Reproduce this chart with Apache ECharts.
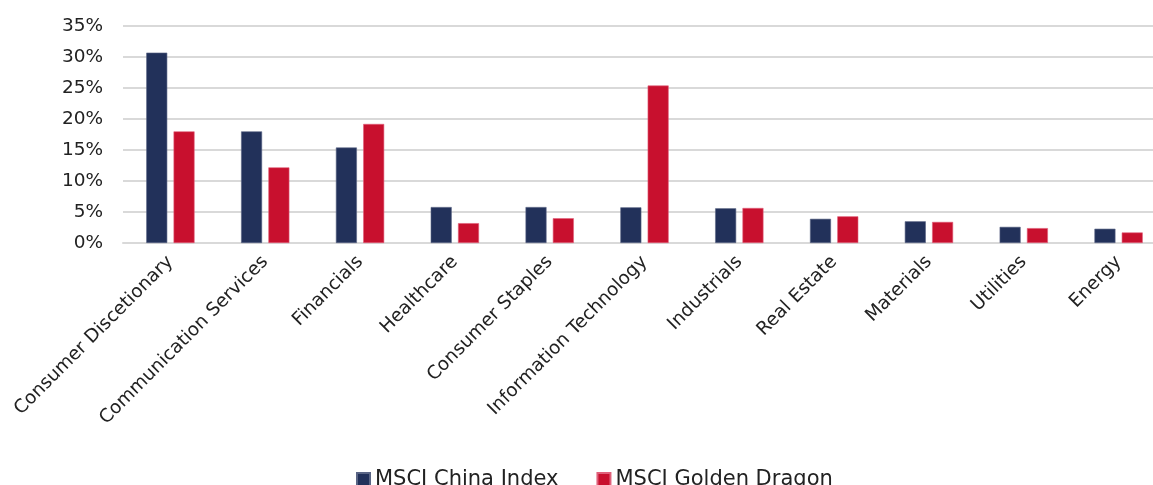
<!DOCTYPE html>
<html><head><meta charset="utf-8">
<script src="https://cdn.jsdelivr.net/npm/echarts@6/dist/echarts.min.js"></script>
<style>html,body{margin:0;padding:0;background:#fff;overflow:hidden;width:1153px;height:485px}#c{width:1166px;height:485px}</style>
</head><body><div id="c"></div>
<script>
const categories = ["Consumer Discetionary","Communication Services","Financials","Healthcare","Consumer Staples","Information Technology","Industrials","Real Estate","Materials","Utilities","Energy"];
const chinaIndex = [30.7, 18.0, 15.4, 5.8, 5.8, 5.75, 5.6, 3.9, 3.5, 2.6, 2.3];
const goldenDragon = [18.0, 12.2, 19.2, 3.2, 4.0, 25.4, 5.65, 4.3, 3.4, 2.4, 1.7];
const seriesNames = ["MSCI China Index", "MSCI Golden Dragon"];
const FONT = "'DejaVu Sans', sans-serif";
const chart = echarts.init(document.getElementById('c'));
chart.setOption({
  animation: false,
  textStyle: {fontFamily: FONT},
  grid: {left: 123, top: 26, right: 0, height: 217, containLabel: false},
  legend: {
    top: 464, left: 351, itemWidth: 13, itemHeight: 13, itemGap: 38,
    icon: 'rect',
    textStyle: {fontFamily: FONT, fontSize: 21, color: '#222'},
    data: seriesNames
  },
  xAxis: {
    type: 'category', data: categories,
    axisLine: {lineStyle: {color: '#d9d9d9', width: 2}},
    axisTick: {show: false},
    axisLabel: {rotate: 45, interval: 0, fontSize: 18.5, color: '#222', margin: 16, fontFamily: FONT}
  },
  yAxis: {
    type: 'value', min: 0, max: 35, interval: 5,
    axisLabel: {formatter: '{value}%', fontSize: 18.5, color: '#222', margin: 20, fontFamily: FONT},
    splitLine: {lineStyle: {color: '#d9d9d9', width: 2}},
    axisLine: {show: false}, axisTick: {show: false}
  },
  series: [
    {name: seriesNames[0], type: 'bar', data: chinaIndex, barWidth: 21, barGap: '30%',
     itemStyle: {color: '#22315A', borderColor: '#5a6585', borderWidth: 0.6}},
    {name: seriesNames[1], type: 'bar', data: goldenDragon, barWidth: 21,
     itemStyle: {color: '#C8102E', borderColor: '#e0607a', borderWidth: 0.6}}
  ]
});
</script></body></html>
